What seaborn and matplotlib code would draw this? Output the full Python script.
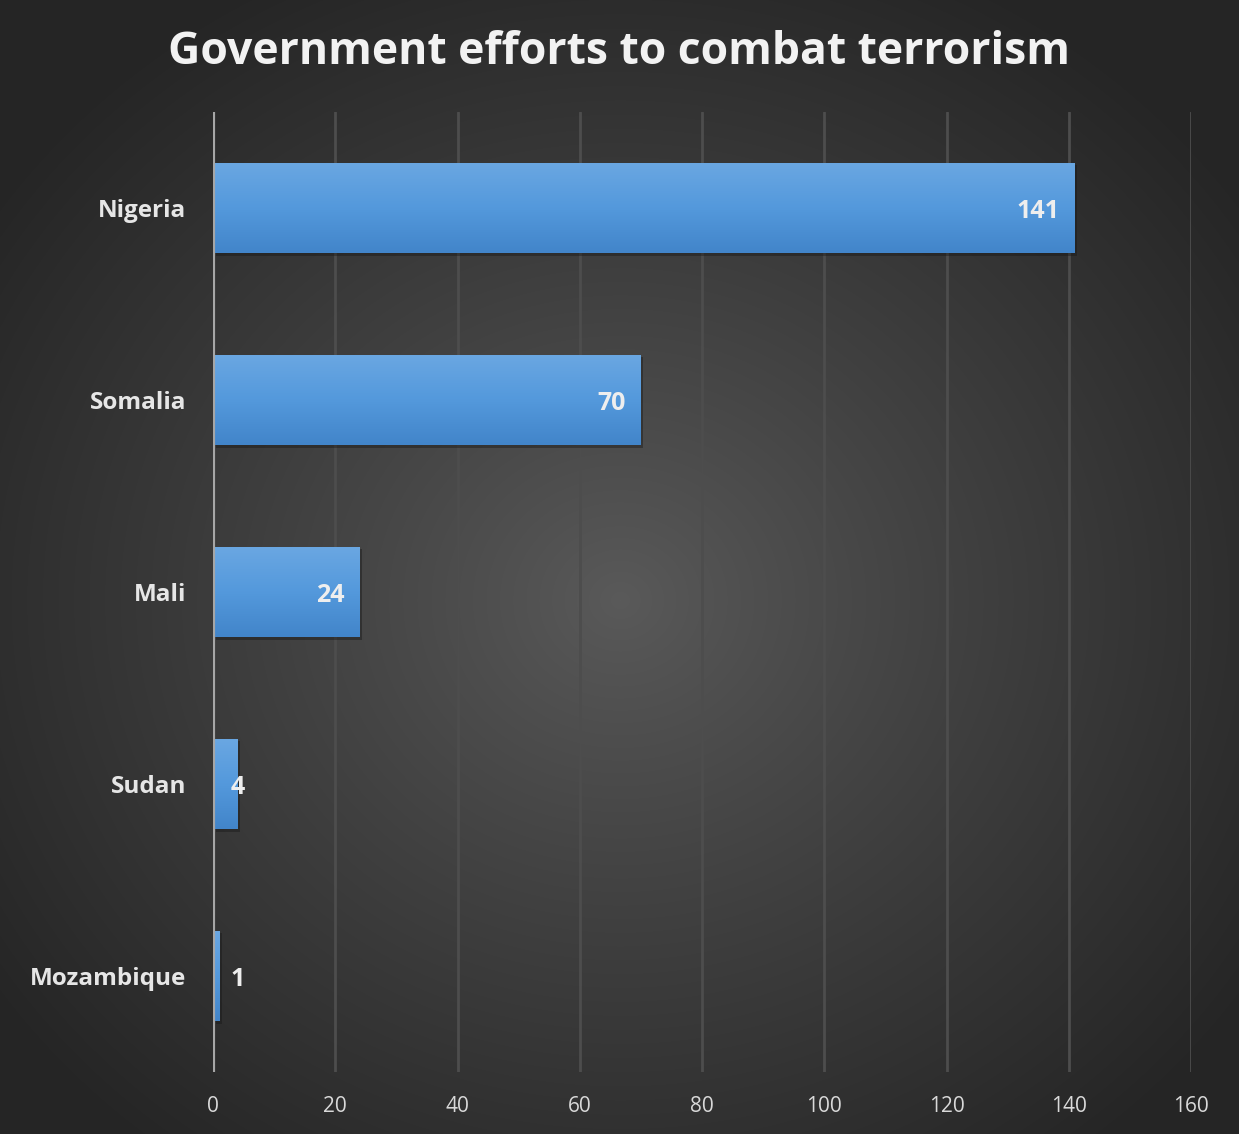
import numpy as np
import pandas as pd
import matplotlib
matplotlib.use("Agg")
import matplotlib.pyplot as plt
import matplotlib.patheffects as pe
from matplotlib.colors import LinearSegmentedColormap
import seaborn as sns

# ---- data ----
countries = ["Nigeria", "Somalia", "Mali", "Sudan", "Mozambique"]
values = [141, 70, 24, 4, 1]
xticks = [0, 20, 40, 60, 80, 100, 120, 140, 160]
title = "Government efforts to combat terrorism"

df = pd.DataFrame({"country": countries, "value": values})

sns.set_theme(style="dark")
plt.rcParams["font.family"] = ["Open Sans", "DejaVu Sans"]

W, H = 1239, 1134
fig = plt.figure(figsize=(W / 100, H / 100), dpi=100)

# radial background
bg = fig.add_axes([0, 0, 1, 1], zorder=-10)
yy, xx = np.mgrid[0:H, 0:W]
cx, cy = 620, 600
r = np.sqrt(((xx - cx) / (W * 0.62)) ** 2 + ((yy - cy) / (H * 0.62)) ** 2)
r = np.clip(r, 0, 1) ** 0.9
c0 = np.array([0x5a, 0x5a, 0x5a]) / 255
c1 = np.array([0x25, 0x25, 0x25]) / 255
img = c0[None, None, :] * (1 - r[..., None]) + c1[None, None, :] * r[..., None]
bg.imshow(img, aspect="auto", extent=[0, 1, 0, 1])
bg.set_axis_off()

ax = fig.add_axes([213 / W, 1 - 1072 / H, (1191 - 213) / W, (1072 - 112) / H])
ax.patch.set_alpha(0)

sns.barplot(data=df, x="value", y="country", orient="h", color="#5597d8",
            width=0.47, ax=ax, saturation=1, edgecolor="none")

ax.set_xlim(0, 160)
ax.set_ylim(4.5, -0.5)
ax.set_xticks(xticks)
ax.set_xticklabels([str(t) for t in xticks])

# gradient fill on bars + shadow
grad = LinearSegmentedColormap.from_list("g", ["#6aa7e2", "#5499dc", "#4285ca"])
gimg = np.linspace(0, 1, 100).reshape(-1, 1)
for p in ax.patches:
    x0, y0 = p.get_x(), p.get_y()
    w, h = p.get_width(), p.get_height()
    p.set_path_effects([pe.SimplePatchShadow(offset=(1.8, -1.8), shadow_rgbFace="#151515", alpha=0.4), pe.Normal()])
    im = ax.imshow(gimg, cmap=grad, aspect="auto", extent=[x0, x0 + w, y0 + h, y0],
                   zorder=p.get_zorder() + 0.1, interpolation="bicubic")
    im.set_clip_path(p)

ax.set_xlim(0, 160)
ax.set_ylim(4.5, -0.5)

# grid
ax.grid(False)
for t in xticks[1:]:
    ax.axvline(t, color="#4d4d4d", lw=2, zorder=0)
ax.axvline(0, color="#a6a6a6", lw=3, zorder=5)

for s in ax.spines.values():
    s.set_visible(False)

ax.tick_params(axis="x", colors="#d9d9d9", labelsize=15, length=0, pad=17)
ax.tick_params(axis="y", colors="#e6e6e6", length=0, pad=19)
for lbl in ax.get_yticklabels():
    lbl.set_fontsize(17.5)
    lbl.set_fontweight("bold")
ax.set_xlabel("")
ax.set_ylabel("")

# value labels
kw = dict(textcoords="offset points", va="center_baseline", color="#eeeeee",
          fontsize=18, fontweight="bold", zorder=10)
for i, v in enumerate(values):
    if v >= 10:
        ax.annotate(str(v), (v, i), xytext=(-11, 0), ha="right", **kw)
    elif v >= 3:
        ax.annotate(str(v), (v, i), xytext=(0, 0), ha="center", **kw)
    else:
        ax.annotate(str(v), (v, i), xytext=(8, 0), ha="left", **kw)

fig.text(0.5, 1 - 52 / H, title, ha="center", va="center", color="#f2f2f2",
         fontsize=32, fontweight="bold")

fig.savefig("out.png", dpi=100)
